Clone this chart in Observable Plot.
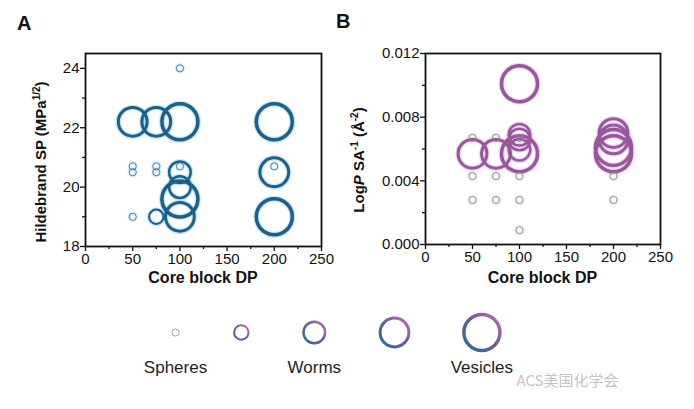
<!DOCTYPE html>
<html><head><meta charset="utf-8">
<script src="https://cdn.jsdelivr.net/npm/d3@7"></script>
<script src="https://cdn.jsdelivr.net/npm/@observablehq/plot@0.6"></script>
<style>
body{margin:0;background:#fff;font-family:"Liberation Sans",Arial,sans-serif}
#wrap{position:relative;width:694px;height:409px;overflow:hidden;background:#fff}
#wrap > *{position:absolute}
.lbl{position:absolute;font-weight:bold;font-size:20px;color:#111}
</style></head><body><div id="wrap"></div>
<script>
// Panel A: Hildebrand solubility parameter vs core block DP
const dpA    = [100, 50, 75, 100, 200, 50, 50, 75, 75, 100, 200, 100, 100, 100, 100, 50, 75, 200, 200];
const spA    = [24.0, 22.2, 22.2, 22.2, 22.2, 20.7, 20.5, 20.7, 20.5, 20.7, 20.7, 20.5, 20.0, 19.6, 19.0, 19.0, 19.0, 20.5, 19.0];
const levelA = [1, 4, 4, 5, 5, 1, 1, 1, 1, 1, 1, 3, 3, 5, 4, 1, 2, 4, 5];
// Panel B: LogP SA^-1 vs core block DP
const dpB    = [50, 75, 100, 50, 75, 100, 200, 50, 75, 100, 200, 100, 50, 75, 100, 100, 100, 100, 100, 200, 200, 200, 200];
const logB   = [0.0067, 0.0067, 0.0067, 0.0043, 0.0043, 0.0043, 0.0043, 0.0028, 0.0028, 0.0028, 0.0028, 0.0009,
                0.0057, 0.0057, 0.0057, 0.0101, 0.0069, 0.0066, 0.00595, 0.0070, 0.0066, 0.0061, 0.0057];
const levelB = [1, 1, 1, 1, 1, 1, 1, 1, 1, 1, 1, 1, 4, 4, 5, 5, 3, 3, 3, 4, 4, 5, 5];
// Legend: morphology levels
const legendLevels = [1, 2, 3, 4, 5];
const legendNames  = ["Spheres", "Worms", "Vesicles"];
const legendNameLevels = [1, 3, 5];
const xTicks = [0, 50, 100, 150, 200, 250];
const xMinor = [25, 75, 125, 175, 225];
const yTicksA = [18, 20, 22, 24], yMinorA = [19, 21, 23];
const yTicksB = [0, 0.004, 0.008, 0.012], yMinorB = [0.002, 0.006, 0.010];

const dataA = dpA.map((d, i) => ({dp: d, v: spA[i], level: levelA[i]}));
const dataB = dpB.map((d, i) => ({dp: d, v: logB[i], level: levelB[i]}));

const sw = [0, 0.9, 2, 2.5, 3, 3.5];
const rScale = {type: "linear", domain: [0, 5], range: [0, 18]};
const font = "'Liberation Sans', Arial, sans-serif";
const wrap = document.getElementById("wrap");

function panel(o) {
  return Plot.plot({
    width: o.width, height: 250,
    marginLeft: 85, marginRight: o.marginRight, marginTop: 13, marginBottom: o.marginBottom,
    style: {fontFamily: font, fontSize: "15px", color: "#111", background: "white", overflow: "visible"},
    x: {domain: [0, 250]},
    y: {domain: o.yDomain},
    r: rScale,
    marks: [
      Plot.dot(o.data, {x: "dp", y: "v", r: "level", fill: "none",
        stroke: d => d.level === 1 ? o.haloSmall : o.halo,
        strokeOpacity: 0.5, strokeWidth: d => sw[d.level] + 2.5}),
      Plot.dot(o.data, {x: "dp", y: "v", r: "level", fill: "none",
        stroke: d => d.level === 1 ? o.small : o.color,
        strokeWidth: d => sw[d.level]}),
      Plot.frame({stroke: "#111", strokeWidth: 1.8}),
      Plot.axisX({ticks: xTicks, tickSize: 5, tickPadding: 2, label: null, strokeWidth: 1.3}),
      Plot.axisX({ticks: xMinor, tickSize: 3, tickFormat: () => "", label: null, strokeWidth: 1.3}),
      Plot.axisY({ticks: o.yTicks, tickSize: 5, tickPadding: 1, tickFormat: o.yFormat, label: null, strokeWidth: 1.3}),
      Plot.axisY({ticks: o.yMinor, tickSize: 3, tickFormat: () => "", label: null, strokeWidth: 1.3})
    ]
  });
}

const svgA = panel({data: dataA, width: 330, marginRight: 9, marginBottom: 44, yDomain: [18, 24.5],
  yTicks: yTicksA, yMinor: yMinorA, yFormat: d3.format("d"),
  color: "#1d5f8a", halo: "#8fd0ee", small: "#3f7399", haloSmall: "#bfe3f3"});
svgA.style.left = "0px"; svgA.style.top = "40px";
wrap.appendChild(svgA);

const svgB = panel({data: dataB, width: 340, marginRight: 20, marginBottom: 46, yDomain: [0, 0.012],
  yTicks: yTicksB, yMinor: yMinorB, yFormat: d3.format(".3f"),
  color: "#98569c", halo: "#e6b4e6", small: "#8a8a8a", haloSmall: "#dddddd"});
svgB.style.left = "340px"; svgB.style.top = "40px";
wrap.appendChild(svgB);

function xLabel(svg, cx) {
  d3.select(svg).append("text").attr("x", cx).attr("y", 243).attr("text-anchor", "middle")
    .attr("font-weight", "bold").attr("font-size", 16).attr("fill", "#111").text("Core block DP");
}
xLabel(svgA, 203);
xLabel(svgB, 202.5);

const ta = d3.select(svgA).append("text").attr("transform", "translate(46,122) rotate(-90)")
  .attr("text-anchor", "middle").attr("font-weight", "bold").attr("font-size", 15).attr("fill", "#111");
ta.append("tspan").text("Hildebrand SP (MPa");
ta.append("tspan").attr("font-size", 10).attr("dy", -6).text("1/2");
ta.append("tspan").attr("dy", 6).text(")");

const tb = d3.select(svgB).append("text").attr("transform", "translate(24,120) rotate(-90)")
  .attr("text-anchor", "middle").attr("font-weight", "bold").attr("font-size", 15).attr("fill", "#111");
tb.append("tspan").text("Log");
tb.append("tspan").attr("font-style", "italic").text("P");
tb.append("tspan").text(" SA");
tb.append("tspan").attr("font-size", 10).attr("dy", -6).text("-1");
tb.append("tspan").attr("dy", 6).text(" (Å");
tb.append("tspan").attr("font-size", 10).attr("dy", -6).text("-2");
tb.append("tspan").attr("dy", 6).text(")");

// panel letters
const la = document.createElement("div"); la.className = "lbl"; la.textContent = "A";
la.style.left = "17px"; la.style.top = "12px"; wrap.appendChild(la);
const lb = document.createElement("div"); lb.className = "lbl"; lb.textContent = "B";
lb.style.left = "336px"; lb.style.top = "10px"; wrap.appendChild(lb);

// Legend
const gap = 55;
const rOf = l => 18 * l / 5;
const pos = {};
legendLevels.forEach((l, i) => {
  pos[l] = i === 0 ? 175 : pos[legendLevels[i - 1]] + rOf(legendLevels[i - 1]) + gap + rOf(l);
});
const legData = legendLevels.map(l => ({level: l}));
const nameData = legendNames.map((n, i) => ({name: n, level: legendNameLevels[i]}));

const svgL = Plot.plot({
  width: 694, height: 112, margin: 0,
  style: {fontFamily: font, background: "transparent", overflow: "visible"},
  x: {type: "identity", axis: null}, y: {type: "identity", axis: null}, r: rScale,
  marks: [
    Plot.dot(legData, {x: d => pos[d.level], y: () => 37, r: "level", fill: "none",
      stroke: d => d.level === 1 ? "#999999" : "url(#lgGrad)", strokeWidth: d => d.level === 1 ? 0.9 : sw[d.level]}),
    Plot.text(nameData, {x: d => pos[d.level], y: () => 72.5, text: "name", fontSize: 17, fill: "#222", textAnchor: "middle"}),
    Plot.text(["ACS美国化学会"], {x: () => 516, y: () => 86, text: d => d, textAnchor: "start",
      fontSize: 15, fill: "#c4c4c4", fontFamily: "'Noto Sans CJK SC', sans-serif"})
  ]
});
const defs = d3.select(svgL).insert("defs", ":first-child");
const g = defs.append("linearGradient").attr("id", "lgGrad").attr("x1", 0).attr("y1", 1).attr("x2", 1).attr("y2", 0);
g.append("stop").attr("offset", "0%").attr("stop-color", "#2a6f9e");
g.append("stop").attr("offset", "50%").attr("stop-color", "#6a5a92");
g.append("stop").attr("offset", "100%").attr("stop-color", "#c268c2");
svgL.style.left = "0px"; svgL.style.top = "295px";
wrap.appendChild(svgL);
</script></body></html>
